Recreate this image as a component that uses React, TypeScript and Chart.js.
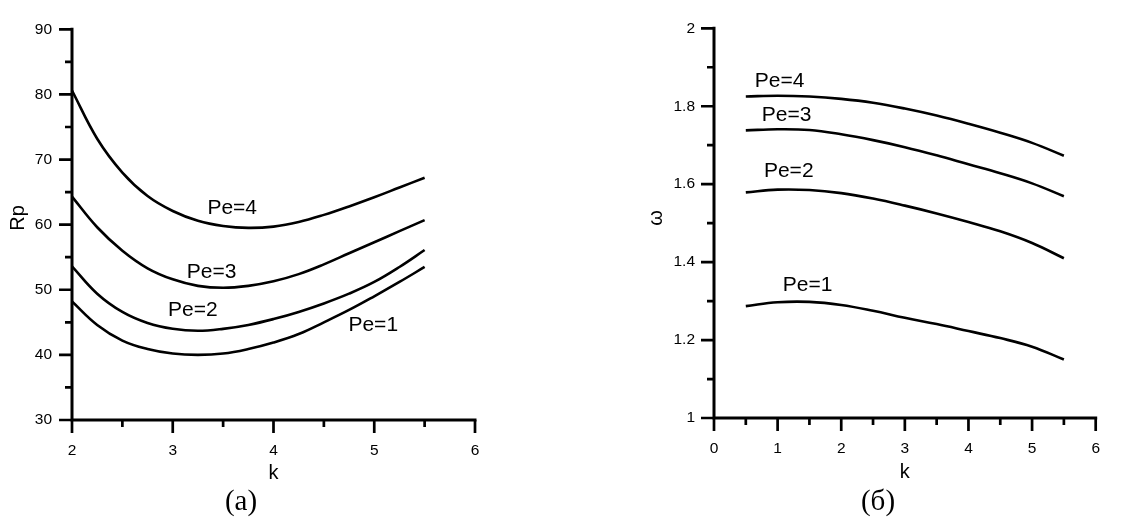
import React, { useEffect, useRef } from 'react';
import { Chart, registerables } from 'chart.js';

Chart.register(...registerables);

// ---------- Panel (а): Rp vs k ----------
const kA = [2, 2.25, 2.5, 2.75, 3, 3.25, 3.5, 3.75, 4, 4.25, 4.5, 4.75, 5, 5.25, 5.5];
const rpPe1 = [48.2, 44.6, 42.2, 40.9, 40.2, 40.0, 40.2, 40.9, 41.9, 43.2, 45.0, 46.9, 49.0, 51.2, 53.5];
const rpPe2 = [53.6, 49.4, 46.6, 44.9, 44.0, 43.7, 44.0, 44.6, 45.5, 46.6, 47.9, 49.4, 51.2, 53.5, 56.1];
const rpPe3 = [64.3, 59.6, 56.0, 53.3, 51.6, 50.6, 50.3, 50.6, 51.3, 52.4, 53.9, 55.6, 57.3, 59.0, 60.7];
const rpPe4 = [80.6, 73.2, 68.0, 64.4, 62.1, 60.6, 59.8, 59.5, 59.7, 60.4, 61.5, 62.8, 64.2, 65.7, 67.2];
const rpLabelText = ['Pe=1', 'Pe=2', 'Pe=3', 'Pe=4'];
const rpLabelK = [4.99, 3.2, 3.385, 3.59];
const rpLabelV = [44.6, 46.85, 52.65, 62.6];

// ---------- Panel (б): ω vs k ----------
const kB = [0.5, 1, 1.5, 2, 2.5, 3, 3.5, 4, 4.5, 5, 5.5];
const omPe1 = [1.287, 1.297, 1.298, 1.29, 1.275, 1.257, 1.241, 1.223, 1.205, 1.183, 1.15];
const omPe2 = [1.579, 1.586, 1.585, 1.577, 1.563, 1.545, 1.525, 1.503, 1.479, 1.449, 1.41];
const omPe3 = [1.738, 1.741, 1.739, 1.728, 1.713, 1.695, 1.674, 1.651, 1.628, 1.602, 1.569];
const omPe4 = [1.825, 1.827, 1.825, 1.819, 1.809, 1.794, 1.776, 1.755, 1.732, 1.706, 1.673];
const omLabelText = ['Pe=1', 'Pe=2', 'Pe=3', 'Pe=4'];
const omLabelK = [1.47, 1.175, 1.14, 1.03];
const omLabelV = [1.342, 1.633, 1.776, 1.865];

const SANS = '"Liberation Sans", Arial, sans-serif';
const SERIF = '"Liberation Serif", "Times New Roman", serif';

type Panel = {
  k: number[];
  series: number[][];
  labelText: string[];
  labelK: number[];
  labelV: number[];
  xMin: number; xMax: number; xMajor: number; xMinor: number;
  yMin: number; yMax: number; yMajor: number; yMinor: number;
  yAxisWidth: number; xAxisHeight: number;
  pad: { left: number; right: number; top: number; bottom: number };
  yTitle: string; yTitleX: number; yTitleY: number;
  xTitle: string; xTitleBase: number;
  caption: string; captionX: number; captionBase: number;
  yLabelPad: number; xLabelPad: number;
};

const fmt = (v: number) => String(Math.round(v * 10) / 10);

function build(canvas: HTMLCanvasElement, p: Panel) {
  const decorate = {
    id: 'decorate',
    afterDraw(chart: any) {
      const ctx = chart.ctx as CanvasRenderingContext2D;
      const xs = chart.scales.x;
      const ys = chart.scales.y;
      const a = chart.chartArea;
      ctx.save();
      ctx.strokeStyle = '#000';
      ctx.fillStyle = '#000';
      // axes
      ctx.lineWidth = 3;
      ctx.lineCap = 'square';
      ctx.beginPath();
      ctx.moveTo(a.left, a.top);
      ctx.lineTo(a.left, a.bottom);
      ctx.lineTo(a.right, a.bottom);
      ctx.stroke();
      // ticks
      ctx.lineCap = 'butt';
      ctx.lineWidth = 2.7;
      ctx.beginPath();
      for (let v = p.xMin; v <= p.xMax + 1e-9; v += p.xMinor) {
        const r = v / p.xMajor;
        const major = Math.abs(r - Math.round(r)) < 1e-6;
        const px = xs.getPixelForValue(v);
        ctx.moveTo(px, a.bottom);
        ctx.lineTo(px, a.bottom + (major ? 13 : 7));
      }
      for (let v = p.yMin; v <= p.yMax + 1e-9; v += p.yMinor) {
        const r = v / p.yMajor;
        const major = Math.abs(r - Math.round(r)) < 1e-6;
        const py = ys.getPixelForValue(v);
        ctx.moveTo(a.left, py);
        ctx.lineTo(a.left - (major ? 13 : 7), py);
      }
      ctx.stroke();
      // curve labels
      ctx.font = `21px ${SANS}`;
      ctx.textAlign = 'center';
      ctx.textBaseline = 'middle';
      p.labelText.forEach((t, i) => {
        ctx.fillText(t, xs.getPixelForValue(p.labelK[i]), ys.getPixelForValue(p.labelV[i]));
      });
      // axis titles
      ctx.font = `20px ${SANS}`;
      ctx.textBaseline = 'alphabetic';
      ctx.fillText(p.xTitle, (a.left + a.right) / 2, p.xTitleBase);
      ctx.save();
      ctx.translate(p.yTitleX, p.yTitleY);
      ctx.rotate(-Math.PI / 2);
      ctx.textBaseline = 'middle';
      ctx.fillText(p.yTitle, 0, 0);
      ctx.restore();
      // caption
      ctx.font = `29px ${SERIF}`;
      ctx.textBaseline = 'alphabetic';
      ctx.fillText(p.caption, p.captionX, p.captionBase);
      ctx.restore();
    },
  };

  return new Chart(canvas, {
    type: 'line',
    data: {
      datasets: p.series.map((s, i) => ({
        label: p.labelText[i],
        data: p.k.map((x, j) => ({ x, y: s[j] })),
        borderColor: '#000',
        borderWidth: 2.6,
        pointRadius: 0,
        fill: false,
        tension: 0.4,
      })),
    },
    options: {
      responsive: false,
      animation: false,
      devicePixelRatio: 1,
      layout: { padding: p.pad },
      plugins: { legend: { display: false }, tooltip: { enabled: false }, title: { display: false } },
      scales: {
        x: {
          type: 'linear',
          min: p.xMin,
          max: p.xMax,
          grid: { display: false, drawTicks: false },
          border: { display: false },
          ticks: {
            stepSize: p.xMajor,
            autoSkip: false,
            maxRotation: 0,
            padding: p.xLabelPad,
            color: '#000',
            font: { family: SANS, size: 15.5 },
            callback: (v: any) => fmt(Number(v)),
          },
          afterFit: (s: any) => { s.height = p.xAxisHeight; },
        },
        y: {
          type: 'linear',
          min: p.yMin,
          max: p.yMax,
          grid: { display: false, drawTicks: false },
          border: { display: false },
          ticks: {
            stepSize: p.yMajor,
            autoSkip: false,
            padding: p.yLabelPad,
            color: '#000',
            font: { family: SANS, size: 15.5 },
            callback: (v: any) => fmt(Number(v)),
          },
          afterFit: (s: any) => { s.width = p.yAxisWidth; },
        },
      },
    },
    plugins: [decorate],
  } as any);
}

const panelA: Panel = {
  k: kA,
  series: [rpPe1, rpPe2, rpPe3, rpPe4],
  labelText: rpLabelText, labelK: rpLabelK, labelV: rpLabelV,
  xMin: 2, xMax: 6, xMajor: 1, xMinor: 0.5,
  yMin: 30, yMax: 90, yMajor: 10, yMinor: 5,
  yAxisWidth: 72, xAxisHeight: 100,
  pad: { left: 0, right: 85, top: 17, bottom: 0 },
  yTitle: 'Rp', yTitleX: 18, yTitleY: 218,
  xTitle: 'k', xTitleBase: 479,
  caption: '(а)', captionX: 241, captionBase: 510,
  yLabelPad: 20, xLabelPad: 21,
};

const panelB: Panel = {
  k: kB,
  series: [omPe1, omPe2, omPe3, omPe4],
  labelText: omLabelText, labelK: omLabelK, labelV: omLabelV,
  xMin: 0, xMax: 6, xMajor: 1, xMinor: 0.5,
  yMin: 1, yMax: 2, yMajor: 0.2, yMinor: 0.1,
  yAxisWidth: 154, xAxisHeight: 102,
  pad: { left: 0, right: 6, top: 17, bottom: 0 },
  yTitle: 'ω', yTitleX: 96, yTitleY: 218,
  xTitle: 'k', xTitleBase: 478,
  caption: '(б)', captionX: 318, captionBase: 510,
  yLabelPad: 19, xLabelPad: 21,
};

function PanelChart({ panel, width, left }: { panel: Panel; width: number; left: number }) {
  const ref = useRef<HTMLCanvasElement | null>(null);
  useEffect(() => {
    if (!ref.current) return;
    const c = build(ref.current, panel);
    return () => c.destroy();
  }, [panel]);
  return (
    <canvas
      ref={ref}
      width={width}
      height={520}
      style={{ position: 'absolute', left, top: 0, width, height: 520, display: 'block' }}
    />
  );
}

export default function App() {
  return (
    <div style={{ position: 'absolute', left: 0, top: 0, width: 1121, height: 520, background: '#fff', overflow: 'hidden' }}>
      <PanelChart panel={panelA} width={560} left={0} />
      <PanelChart panel={panelB} width={561} left={560} />
    </div>
  );
}
